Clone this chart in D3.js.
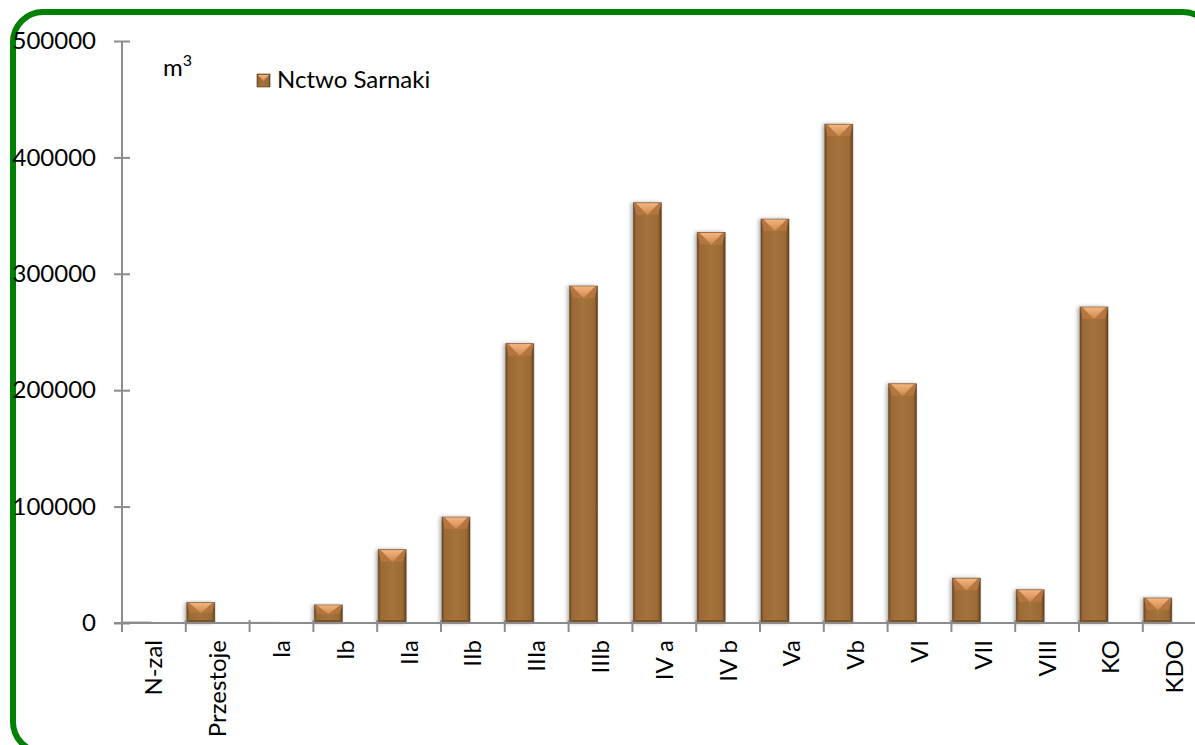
<!DOCTYPE html>
<html><head><meta charset="utf-8">
<script src="https://cdn.jsdelivr.net/npm/d3@7"></script>
<style>html,body{margin:0;padding:0;background:#fff;overflow:hidden}</style>
</head><body>
<script>
const categories = ["N-zal","Przestoje","Ia","Ib","IIa","IIb","IIIa","IIIb","IV a","IV b","Va","Vb","VI","VII","VIII","KO","KDO"];
const values = [800,17500,600,15500,63000,91000,240000,289500,361000,335500,347000,428500,205500,38500,28500,271500,21500];
const yTicks = [0,100000,200000,300000,400000,500000];
const seriesName = "Nctwo Sarnaki";
const unitLabel = "m";

const W = 1195, H = 745;
const svg = d3.select("body").append("svg").attr("width", W).attr("height", H);
const defs = svg.append("defs");

const font = "Lato, 'Open Sans', sans-serif";
const fs = 24;

// frame
svg.append("rect").attr("x", 13).attr("y", 12).attr("width", 1200).attr("height", 740)
  .attr("rx", 30).attr("fill", "#fff").attr("stroke", "#008000").attr("stroke-width", 6);

const x0 = 122, y0 = 623, yTop = 41, bandW = 63.8;
const x = d3.scaleBand().domain(categories).range([x0, x0 + bandW * categories.length]).paddingInner(0).paddingOuter(0);
const y = d3.scaleLinear().domain([0, 500000]).range([y0, yTop]);

// gradients
const g1 = defs.append("linearGradient").attr("id", "barH").attr("x1", 0).attr("x2", 1).attr("y1", 0).attr("y2", 0);
[[0, "#6e4a22"], [0.1, "#9a6a36"], [0.5, "#a6723c"], [0.88, "#9a6a36"], [1, "#5e3e1c"]]
  .forEach(s => g1.append("stop").attr("offset", s[0]).attr("stop-color", s[1]));
const g2 = defs.append("linearGradient").attr("id", "bevTop").attr("x1", 0).attr("x2", 0).attr("y1", 0).attr("y2", 1);
[[0, "#f4b680"], [1, "#cf8a4c"]].forEach(s => g2.append("stop").attr("offset", s[0]).attr("stop-color", s[1]));
const f = defs.append("filter").attr("id", "shadow").attr("x", "-30%").attr("y", "-10%").attr("width", "160%").attr("height", "120%");
f.append("feDropShadow").attr("dx", -2).attr("dy", 0).attr("stdDeviation", 2).attr("flood-color", "#000").attr("flood-opacity", 0.35);

// y axis
const axisCol = "#8c8c8c";
const yAxis = svg.append("g").attr("transform", `translate(${x0},0)`)
  .call(d3.axisLeft(y).tickValues(yTicks).tickSize(8).tickPadding(18).tickFormat(d3.format("d")));
yAxis.select(".domain").attr("stroke", axisCol).attr("stroke-width", 2).attr("d", `M0,${y0}V${yTop}`);
yAxis.selectAll(".tick line").attr("stroke", axisCol).attr("stroke-width", 2).attr("x1", 8).attr("x2", -8);
yAxis.selectAll(".tick text").attr("font-family", font).attr("font-size", fs).attr("fill", "#000");

// bars
const bw = 28;
const bars = svg.append("g");
categories.forEach((c, i) => {
  const v = values[i];
  const bx = x(c) + 1;
  const by = y(v);
  const bh = y0 - by;
  const g = bars.append("g");
  g.append("rect").attr("x", bx).attr("y", by).attr("width", bw).attr("height", bh)
    .attr("fill", "url(#barH)").attr("filter", "url(#shadow)");
  const bev = Math.min(12, bh / 2);
  g.append("polygon").attr("points", [[bx, by], [bx + bw, by], [bx + bw - 3, by + bev], [bx + 3, by + bev]].join(" "))
    .attr("fill", "#b47640");
  g.append("polygon").attr("points", [[bx + 2, by], [bx + bw - 2, by], [bx + bw / 2, by + bev]].join(" "))
    .attr("fill", "url(#bevTop)");
  const bb = Math.min(3, bh / 2);
  g.append("polygon").attr("points", [[bx, y0], [bx + bw, y0], [bx + bw - 3, y0 - bb], [bx + 3, y0 - bb]].join(" "))
    .attr("fill", "#7a5228");
  g.append("rect").attr("x", bx).attr("y", by).attr("width", bw).attr("height", bh)
    .attr("fill", "none").attr("stroke", "#5a3b1a").attr("stroke-width", 0.8).attr("stroke-opacity", 0.6);
});

// x axis
const xAxis = svg.append("g").attr("transform", `translate(0,${y0})`)
  .call(d3.axisBottom(x).tickSize(0).tickPadding(0));
xAxis.select(".domain").attr("stroke", axisCol).attr("stroke-width", 2).attr("d", `M${x0 - 8},0H${W + 20}`);
svg.append("g").selectAll("line").data(categories).join("line")
  .attr("x1", d => x(d)).attr("x2", d => x(d)).attr("y1", y0 - 3).attr("y2", y0 + 9)
  .attr("stroke", axisCol).attr("stroke-width", 2);
xAxis.selectAll(".tick text")
  .attr("font-family", font).attr("font-size", fs).attr("fill", "#000")
  .attr("text-anchor", "end").attr("dy", "0.35em")
  .attr("transform", "translate(0,17) rotate(-90)")
  .attr("y", 0).attr("x", 0);

// unit label
const ul = svg.append("text").attr("x", 163).attr("y", 76).attr("font-family", font).attr("font-size", fs).attr("fill", "#000");
ul.append("tspan").text(unitLabel);
ul.append("tspan").attr("dy", -10).attr("font-size", 16).text("3");

// legend
const lg = svg.append("g").attr("transform", "translate(257,74)");
lg.append("rect").attr("width", 13).attr("height", 13).attr("fill", "url(#barH)").attr("stroke", "#5a3b1a").attr("stroke-width", 0.6);
lg.append("polygon").attr("points", "1,1 12,1 6.5,7").attr("fill", "url(#bevTop)");
lg.append("text").attr("x", 20).attr("y", 14).attr("font-family", font).attr("font-size", fs).attr("fill", "#000").text(seriesName);
</script>
</body></html>
